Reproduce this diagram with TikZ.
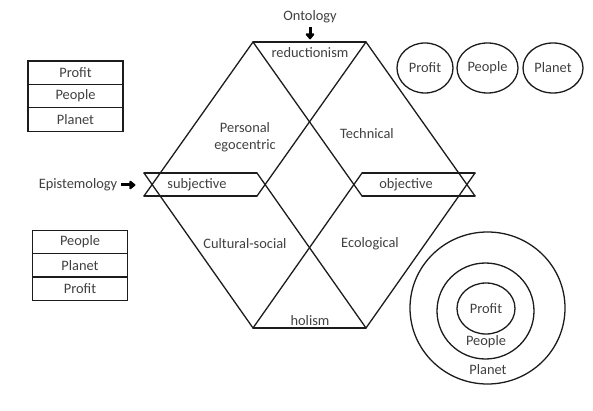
\documentclass[tikz,border=0pt]{standalone}
\usepackage{fontspec}
\setmainfont{Carlito}
\usetikzlibrary{shapes.geometric,positioning,arrows.meta}
\definecolor{inkgrey}{RGB}{64,64,64}
\definecolor{edgeblack}{RGB}{28,28,28}
\tikzset{
  lbl/.style={text=inkgrey,font=\fontsize{14.4}{17}\selectfont,inner sep=0pt},
  tbcell/.style={lbl,draw=edgeblack,line width=1.3pt,minimum width=95pt,
    minimum height=23.4pt,outer sep=0pt},
  pring/.style={lbl,ellipse,draw=edgeblack,line width=1.3pt,inner sep=0pt},
  hexline/.style={draw=edgeblack,line width=1.3pt,line cap=round},
  heavyarrow/.style={draw=black,line width=3pt,
    -{Triangle[length=6.5pt,width=10pt,round]}}
}
\newcommand{\stackrow}[4]{%
  \node[tbcell,below=0pt of #2] (#1) {#4};
}

\begin{document}
\begin{tikzpicture}[x=1pt,y=-1pt]
  \useasboundingbox (0,0) rectangle (593,411);
  % corners of the two crossing diamonds and the two bands
  \coordinate (topA) at (253,42);
  \coordinate (topB) at (366,42);
  \coordinate (botA) at (253,328);
  \coordinate (botB) at (366,328);
  \coordinate (subjTL) at (144,173);
  \coordinate (subjBL) at (144,196);
  \coordinate (subjTR) at (257,173);
  \coordinate (subjBR) at (257,196);
  \coordinate (objTL) at (362,173);
  \coordinate (objBL) at (362,196);
  \coordinate (objTR) at (475,173);
  \coordinate (objBR) at (475,196);

  \draw[hexline] (topA) -- (topB);
  \draw[hexline] (botA) -- (botB);
  \draw[hexline] (topA) -- (subjBL);
  \draw[hexline] (topA) -- (objBL);
  \draw[hexline] (botA) -- (subjTL);
  \draw[hexline] (botA) -- (objTL);
  \draw[hexline] (topB) -- (subjBR);
  \draw[hexline] (topB) -- (objBR);
  \draw[hexline] (botB) -- (subjTR);
  \draw[hexline] (botB) -- (objTR);
  \draw[hexline] (subjTL) -- (subjTR);
  \draw[hexline] (subjBL) -- (subjBR);
  \draw[hexline] (objTL) -- (objTR);
  \draw[hexline] (objBL) -- (objBR);

  \node[lbl] (onto) at (310,17) {Ontology};
  \draw[heavyarrow] ([yshift=-4pt]onto.south) -- ++(0,12);
  \node[lbl] (epist) at (78,185) {Epistemology};
  \draw[heavyarrow] ([xshift=4pt]epist.east) -- ++(14,0);

  \node[lbl] (reduc) at (310,53) {reductionism};
  \node[lbl] (holism) at (310,321) {holism};
  \node[lbl] (subj) at (197,185) {subjective};
  \node[lbl] (obj) at (406,185) {objective};
  \node[lbl,align=center] (personal) at (245,137) {Personal\\egocentric};
  \node[lbl] (technical) at (367,134) {Technical};
  \node[lbl] (cultural) at (245,244) {Cultural-social};
  \node[lbl] (ecological) at (370,244) {Ecological};

  \node[tbcell] (upprofit) at (75.5,72.7) {Profit};
  \stackrow{uppeople}{upprofit}{}{People}
  \stackrow{upplanet}{uppeople}{}{Planet}
  \node[tbcell] (lopeople) at (80,242) {People};
  \stackrow{loplanet}{lopeople}{}{Planet}
  \stackrow{loprofit}{loplanet}{}{Profit}

  \node[pring,minimum width=56pt,minimum height=50pt] (rprofit) at (425,68) {Profit};
  \node[pring,minimum width=61pt,minimum height=50pt] (rpeople) at (487.5,68) {People};
  \node[pring,minimum width=60pt,minimum height=50pt] (rplanet) at (553,68) {Planet};

  \node[pring,minimum width=155pt,minimum height=152pt] (ringplanet) at (487.5,308) {};
  \node[pring,minimum width=97pt,minimum height=96pt] (ringpeople) at (485.5,311) {};
  \node[pring,minimum width=58pt,minimum height=51pt] (ringprofit) at (486,308.5) {Profit};
  \node[lbl] (ringpeoplelbl) at (486,342) {People};
  \node[lbl] (ringplanetlbl) at (488,370) {Planet};
\end{tikzpicture}
\end{document}
